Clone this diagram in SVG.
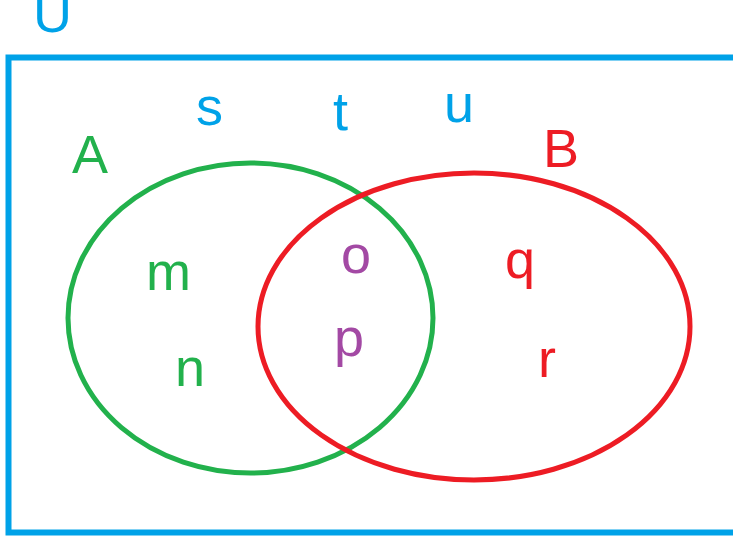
<svg xmlns="http://www.w3.org/2000/svg" width="733" height="540" viewBox="0 0 733 540">
  <style>
    .lbl { font-family: "Liberation Sans", Arial, sans-serif; font-size: 54px; }
    .blue { fill: #00a2e8; }
    .green { fill: #22b14c; }
    .red { fill: #ed1c24; }
    .purple { fill: #a349a4; }
    .set { fill: none; stroke-width: 5; }
  </style>
  <rect width="733" height="540" fill="#ffffff"/>

  <!-- universal set -->
  <g id="universe">
    <rect x="8.5" y="57.5" width="740" height="475" fill="none" stroke="#00a2e8" stroke-width="6"/>
    <text class="lbl blue" x="33" y="32">U</text>
    <text class="lbl blue" x="196" y="125">s</text>
    <text class="lbl blue" x="333" y="130">t</text>
    <text class="lbl blue" x="444" y="122">u</text>
  </g>

  <!-- set A -->
  <g id="setA">
    <ellipse class="set" cx="250.5" cy="318" rx="182.5" ry="155" stroke="#22b14c"/>
    <text class="lbl green" x="72" y="173">A</text>
    <text class="lbl green" x="146" y="290">m</text>
    <text class="lbl green" x="175" y="386">n</text>
  </g>

  <!-- set B -->
  <g id="setB">
    <ellipse class="set" cx="474" cy="326.5" rx="216" ry="153.5" stroke="#ed1c24"/>
    <text class="lbl red" x="543" y="167">B</text>
    <text class="lbl red" x="505" y="278">q</text>
    <text class="lbl red" x="538" y="377">r</text>
  </g>

  <!-- intersection A ∩ B -->
  <g id="intersection">
    <text class="lbl purple" x="341" y="273">o</text>
    <text class="lbl purple" x="334" y="356">p</text>
  </g>
</svg>
